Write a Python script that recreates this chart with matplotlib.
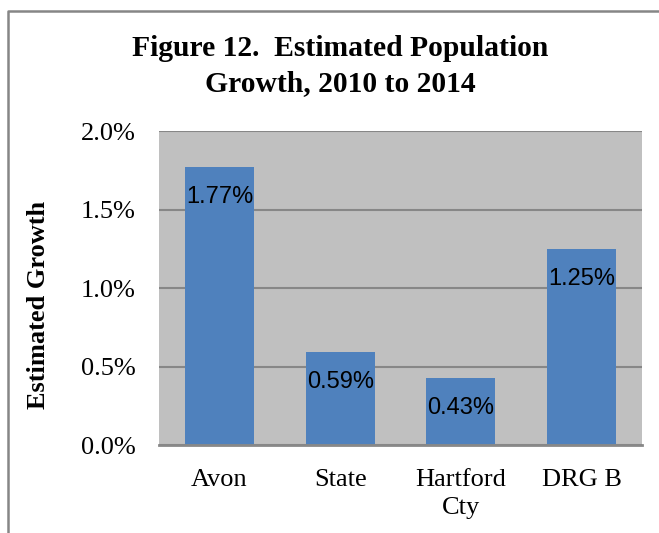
import matplotlib.pyplot as plt
from matplotlib.lines import Line2D
from matplotlib.ticker import FuncFormatter

# data
categories = ['Avon', 'State', 'Hartford\nCty', 'DRG B']
growth = [1.77, 0.59, 0.43, 1.25]   # percent
labels = ['1.77%', '0.59%', '0.43%', '1.25%']

fig = plt.figure(figsize=(6.59, 5.33), dpi=100)
ax = fig.add_axes([0.2413, 0.165, 0.7329, 0.5892])

x = range(len(categories))
ax.bar(x, growth, width=0.57, color='#4f81bd', zorder=3)

# value labels inside top of each bar
for i, (v, t) in enumerate(zip(growth, labels)):
    ax.annotate(t, (i, v), xytext=(0, -30), textcoords='offset pixels',
                ha='center', va='center', fontsize=17,
                family=['Liberation Sans Narrow', 'Liberation Sans'],
                color='black', zorder=4)

ax.set_facecolor('#c0c0c0')
ax.set_xlim(-0.5, len(categories) - 0.5)
ax.set_ylim(0, 2.0)
ax.set_yticks([0, 0.5, 1.0, 1.5, 2.0])
ax.yaxis.set_major_formatter(FuncFormatter(lambda v, p: f'{v:.1f}%'))
ax.grid(axis='y', color='#878787', linewidth=1.5, zorder=1)
ax.set_xticks(list(x))
ax.set_xticklabels(categories, family='Liberation Serif', fontsize=19,
                   linespacing=1.35)
for lab in ax.get_yticklabels():
    lab.set_family('Liberation Serif')
    lab.set_fontsize(19)
ax.tick_params(axis='both', length=0)
ax.tick_params(axis='x', pad=17)
ax.tick_params(axis='y', pad=17)

for s in ['top', 'right', 'left']:
    ax.spines[s].set_visible(False)
ax.spines['bottom'].set_color('#888888')
ax.spines['bottom'].set_linewidth(2)
ax.spines['bottom'].set_zorder(5)

# y label sits a bit below the axis middle in the original
fig.text(39 / 659, 1 - 305 / 533, 'Estimated Growth', rotation=90,
         ha='center', va='center', family='Liberation Serif', fontsize=19,
         fontweight='bold')

fig.text(0.516, 1 - 66 / 533, 'Figure 12.  Estimated Population\nGrowth, 2010 to 2014',
         ha='center', va='center', family='Liberation Serif', fontsize=21.3,
         fontweight='bold', linespacing=1.4)

# outer chart border (cut off at right/bottom)
fig.add_artist(Line2D([8 / 659, 8 / 659, 1.0], [0.0, 1 - 11 / 533, 1 - 11 / 533],
                      transform=fig.transFigure, color='#868686', linewidth=1.8))

plt.savefig('out.png', dpi=100)
